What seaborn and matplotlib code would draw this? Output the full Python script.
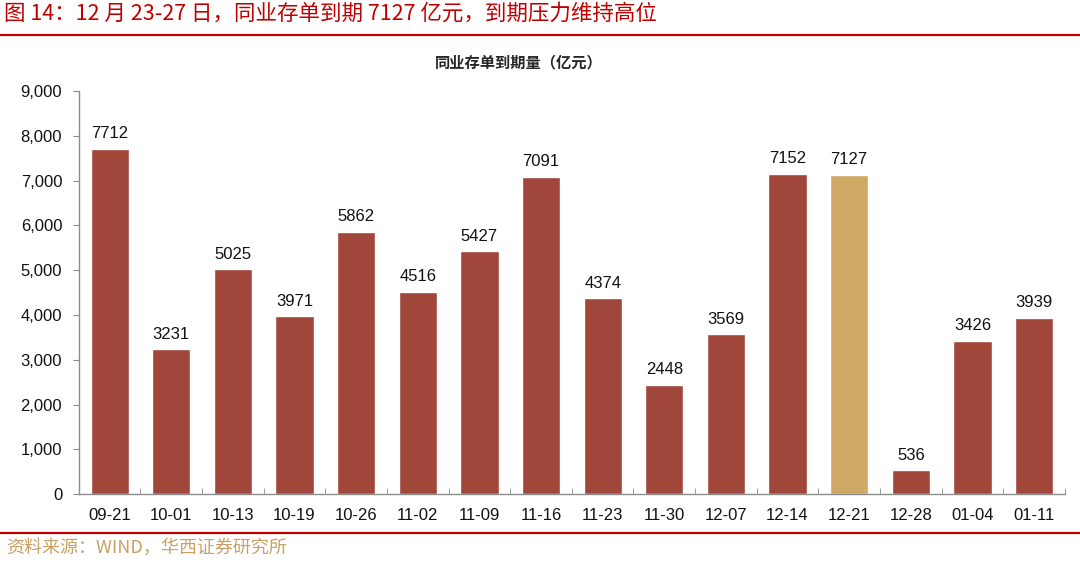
import numpy as np
import pandas as pd
import matplotlib
matplotlib.use('Agg')
import matplotlib.pyplot as plt
import seaborn as sns
from matplotlib.ticker import FuncFormatter, MultipleLocator
from matplotlib.lines import Line2D

sns.set_style('white')
plt.rcParams['font.family'] = ['Liberation Sans', 'Noto Sans CJK SC', 'DejaVu Sans']

dates = ['09-21', '10-01', '10-13', '10-19', '10-26', '11-02', '11-09', '11-16',
         '11-23', '11-30', '12-07', '12-14', '12-21', '12-28', '01-04', '01-11']
values = [7712, 3231, 5025, 3971, 5862, 4516, 5427, 7091,
          4374, 2448, 3569, 7152, 7127, 536, 3426, 3939]
highlight = '12-21'

df = pd.DataFrame({'date': dates, 'value': values})
bar_red = '#A0463A'
bar_gold = '#D0A866'
palette = {d: (bar_gold if d == highlight else bar_red) for d in dates}

fig = plt.figure(figsize=(10.8, 5.66), dpi=100)
ax = fig.add_axes([0.073, 0.127, 0.913, 0.712])

sns.barplot(data=df, x='date', y='value', hue='date', palette=palette,
            legend=False, width=0.62, saturation=1, ax=ax)

for i, v in enumerate(values):
    ax.text(i, v + 170, str(v), ha='center', va='bottom', fontsize=12, color='#111111')

ax.set_ylim(0, 9000)
ax.set_xlim(-0.5, len(dates) - 0.5)
ax.yaxis.set_major_locator(MultipleLocator(1000))
ax.yaxis.set_major_formatter(FuncFormatter(lambda v, p: f'{int(v):,}'))
ax.set_xlabel('')
ax.set_ylabel('')

for s in ['top', 'right']:
    ax.spines[s].set_visible(False)
for s in ['left', 'bottom']:
    ax.spines[s].set_color('#8c8c8c')
    ax.spines[s].set_linewidth(1.0)

ax.tick_params(axis='y', direction='out', length=4, color='#8c8c8c', labelsize=12,
               labelcolor='#111111', left=True, pad=8)
ax.tick_params(axis='x', length=0, labelsize=12, labelcolor='#111111', pad=10)
ax.set_xticks(np.arange(-0.5, len(dates), 1.0), minor=True)
ax.tick_params(axis='x', which='minor', direction='in', length=4, color='#8c8c8c', bottom=True)

fig.text(0.48, 0.89, '同业存单到期量（亿元）', fontsize=11, fontweight='bold',
         ha='center', va='center', family=['Noto Sans CJK SC', 'DejaVu Sans'])

fig.text(0.004, 0.975, '图 14：12 月 23-27 日，同业存单到期 7127 亿元，到期压力维持高位',
         fontsize=15.5, color='#C00000', va='center', ha='left',
         family=['Noto Sans CJK SC', 'DejaVu Sans'])
fig.add_artist(Line2D([0, 1], [0.938, 0.938], color='#C00000', linewidth=1.6,
                      transform=fig.transFigure))
fig.add_artist(Line2D([0, 1], [0.058, 0.058], color='#C00000', linewidth=1.6,
                      transform=fig.transFigure))
fig.text(0.006, 0.032, '资料来源：WIND，华西证券研究所', fontsize=13, color='#C8A064',
         va='center', ha='left', family=['Noto Sans CJK SC', 'DejaVu Sans'])

fig.savefig('out.png', dpi=100)
